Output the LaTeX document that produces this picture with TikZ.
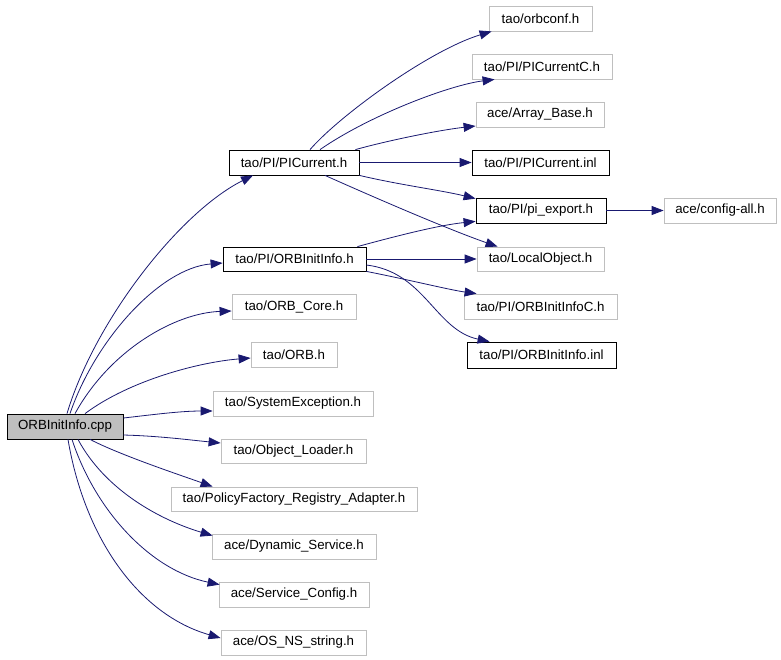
\documentclass[tikz,border=0pt]{standalone}
\usepackage{fontspec}
\setmainfont{Liberation Sans}
\usetikzlibrary{arrows.meta}
\definecolor{edgeblue}{HTML}{191970}
\definecolor{boxgray}{HTML}{BFBFBF}

\begin{document}
\begin{tikzpicture}[x=1pt,y=-1pt,
    every node/.style={inner sep=0pt,font=\fontsize{13.3}{16}\selectfont},
    docbox/.style={draw=black,line width=0.8pt},
    extbox/.style={draw=boxgray,line width=0.8pt},
    edge/.style={draw=edgeblue,line width=0.8pt,-{Triangle[length=12pt,width=9pt]}}]
        \useasboundingbox (0,0) rectangle (781,659); % page size
        % main file
        \node[docbox,fill=boxgray,minimum width=116pt,minimum height=25pt] (cpp) at (65,426.5) {ORBInitInfo.cpp};
        % first column
        \node[docbox,minimum width=130pt,minimum height=25pt] (picur) at (294,162.5) {tao/PI/PICurrent.h};
        \node[docbox,minimum width=143pt,minimum height=24pt] (orbh) at (294.5,259) {tao/PI/ORBInitInfo.h};
        \node[extbox,minimum width=124pt,minimum height=25pt] (orbcore) at (294,306.5) {tao/ORB\_Core.h};
        \node[extbox,minimum width=86pt,minimum height=25pt] (orb) at (294,355) {tao/ORB.h};
        \node[extbox,minimum width=160pt,minimum height=25pt] (sysexc) at (293,403.5) {tao/SystemException.h};
        \node[extbox,minimum width=145pt,minimum height=24pt] (objload) at (293.5,451) {tao/Object\_Loader.h};
        \node[extbox,minimum width=246pt,minimum height=24pt] (policy) at (294,499) {tao/PolicyFactory\_Registry\_Adapter.h};
        \node[extbox,minimum width=164pt,minimum height=25pt] (dynsvc) at (294,546.5) {ace/Dynamic\_Service.h};
        \node[extbox,minimum width=150pt,minimum height=25pt] (svccfg) at (294,594.5) {ace/Service\_Config.h};
        \node[extbox,minimum width=145pt,minimum height=25pt] (osns) at (293.5,642.5) {ace/OS\_NS\_string.h};
        % second column
        \node[extbox,minimum width=103pt,minimum height=25pt] (orbconf) at (540.5,18.5) {tao/orbconf.h};
        \node[extbox,minimum width=140pt,minimum height=25pt] (picurc) at (542,66.5) {tao/PI/PICurrentC.h};
        \node[extbox,minimum width=128pt,minimum height=25pt] (arraybase) at (540,114.5) {ace/Array\_Base.h};
        \node[docbox,minimum width=137pt,minimum height=25pt] (picurinl) at (540.5,162.5) {tao/PI/PICurrent.inl};
        \node[docbox,minimum width=130pt,minimum height=25pt] (piexport) at (541,210.5) {tao/PI/pi\_export.h};
        \node[extbox,minimum width=127pt,minimum height=24pt] (localobj) at (540.5,259) {tao/LocalObject.h};
        \node[extbox,minimum width=153pt,minimum height=25pt] (orbinfoc) at (540.5,306.5) {tao/PI/ORBInitInfoC.h};
        \node[docbox,minimum width=149pt,minimum height=26pt] (orbinfoinl) at (541.5,355) {tao/PI/ORBInitInfo.inl};
        % third column
        \node[extbox,minimum width=112pt,minimum height=25pt] (configall) at (720,210.5) {ace/config-all.h};
        % edges from ORBInitInfo.cpp
        \draw[edge] ([xshift=2pt]cpp.north) .. controls (95,320) and (180,212) .. ([xshift=-41pt]picur.south);
        \draw[edge] ([xshift=5pt]cpp.north) .. controls (95,340) and (160,268) .. ([yshift=-4pt]orbh.west);
        \draw[edge] ([xshift=10pt]cpp.north) .. controls (110,350) and (175,313) .. ([yshift=-4.5pt]orbcore.west);
        \draw[edge] ([xshift=20pt]cpp.north) .. controls (130,380) and (200,362) .. ([yshift=-3pt]orb.west);
        \draw[edge] ([yshift=8.5pt]cpp.east) .. controls (150,415) and (180,411) .. ([yshift=-7.5pt]sysexc.west);
        \draw[edge] ([yshift=-8.5pt]cpp.east) .. controls (160,436) and (190,440) .. ([yshift=8pt]objload.west);
        \draw[edge] ([xshift=25pt]cpp.south) .. controls (120,455) and (180,475) .. ([xshift=42pt]policy.north west);
        \draw[edge] ([xshift=13pt]cpp.south) .. controls (105,490) and (160,520) .. ([xshift=1pt,yshift=-2pt]dynsvc.north west);
        \draw[edge] ([xshift=7pt]cpp.south) .. controls (95,510) and (150,570) .. ([xshift=1pt,yshift=-3pt]svccfg.north west);
        \draw[edge] ([xshift=3pt]cpp.south) .. controls (85,540) and (140,615) .. ([yshift=4.5pt]osns.west);
        % edges from tao/PI/PICurrent.h
        \draw[edge] ([xshift=16pt]picur.north) .. controls (340,115) and (430,50) .. ([xshift=3pt]orbconf.south west);
        \draw[edge] ([xshift=26pt]picur.north) .. controls (370,115) and (450,85) .. ([xshift=23pt]picurc.south west);
        \draw[edge] ([xshift=-4pt]picur.north east) .. controls (390,140) and (440,130) .. ([yshift=-11.5pt]arraybase.west);
        \draw[edge] (picur.east) -- (picurinl.west);
        \draw[edge] (picur.south east) .. controls (400,185) and (440,190) .. ([yshift=-1pt]piexport.north west);
        \draw[edge] ([xshift=31pt]picur.south) .. controls (380,200) and (450,230) .. ([xshift=21pt]localobj.north west);
        % edges from tao/PI/ORBInitInfo.h
        \draw[edge] ([xshift=-9pt]orbh.north east) .. controls (400,235) and (440,225) .. ([yshift=2pt]piexport.south west);
        \draw[edge] (orbh.east) -- (localobj.west);
        \draw[edge] (orbh.south east) .. controls (410,280) and (450,290) .. ([xshift=13pt]orbinfoc.north west);
        \draw[edge] ([yshift=-6pt]orbh.east) .. controls (425,272) and (435,330) .. ([xshift=23pt]orbinfoinl.north west);
        % edge from tao/PI/pi_export.h
        \draw[edge] (piexport.east) -- (configall.west);
    \end{tikzpicture}
\end{document}
